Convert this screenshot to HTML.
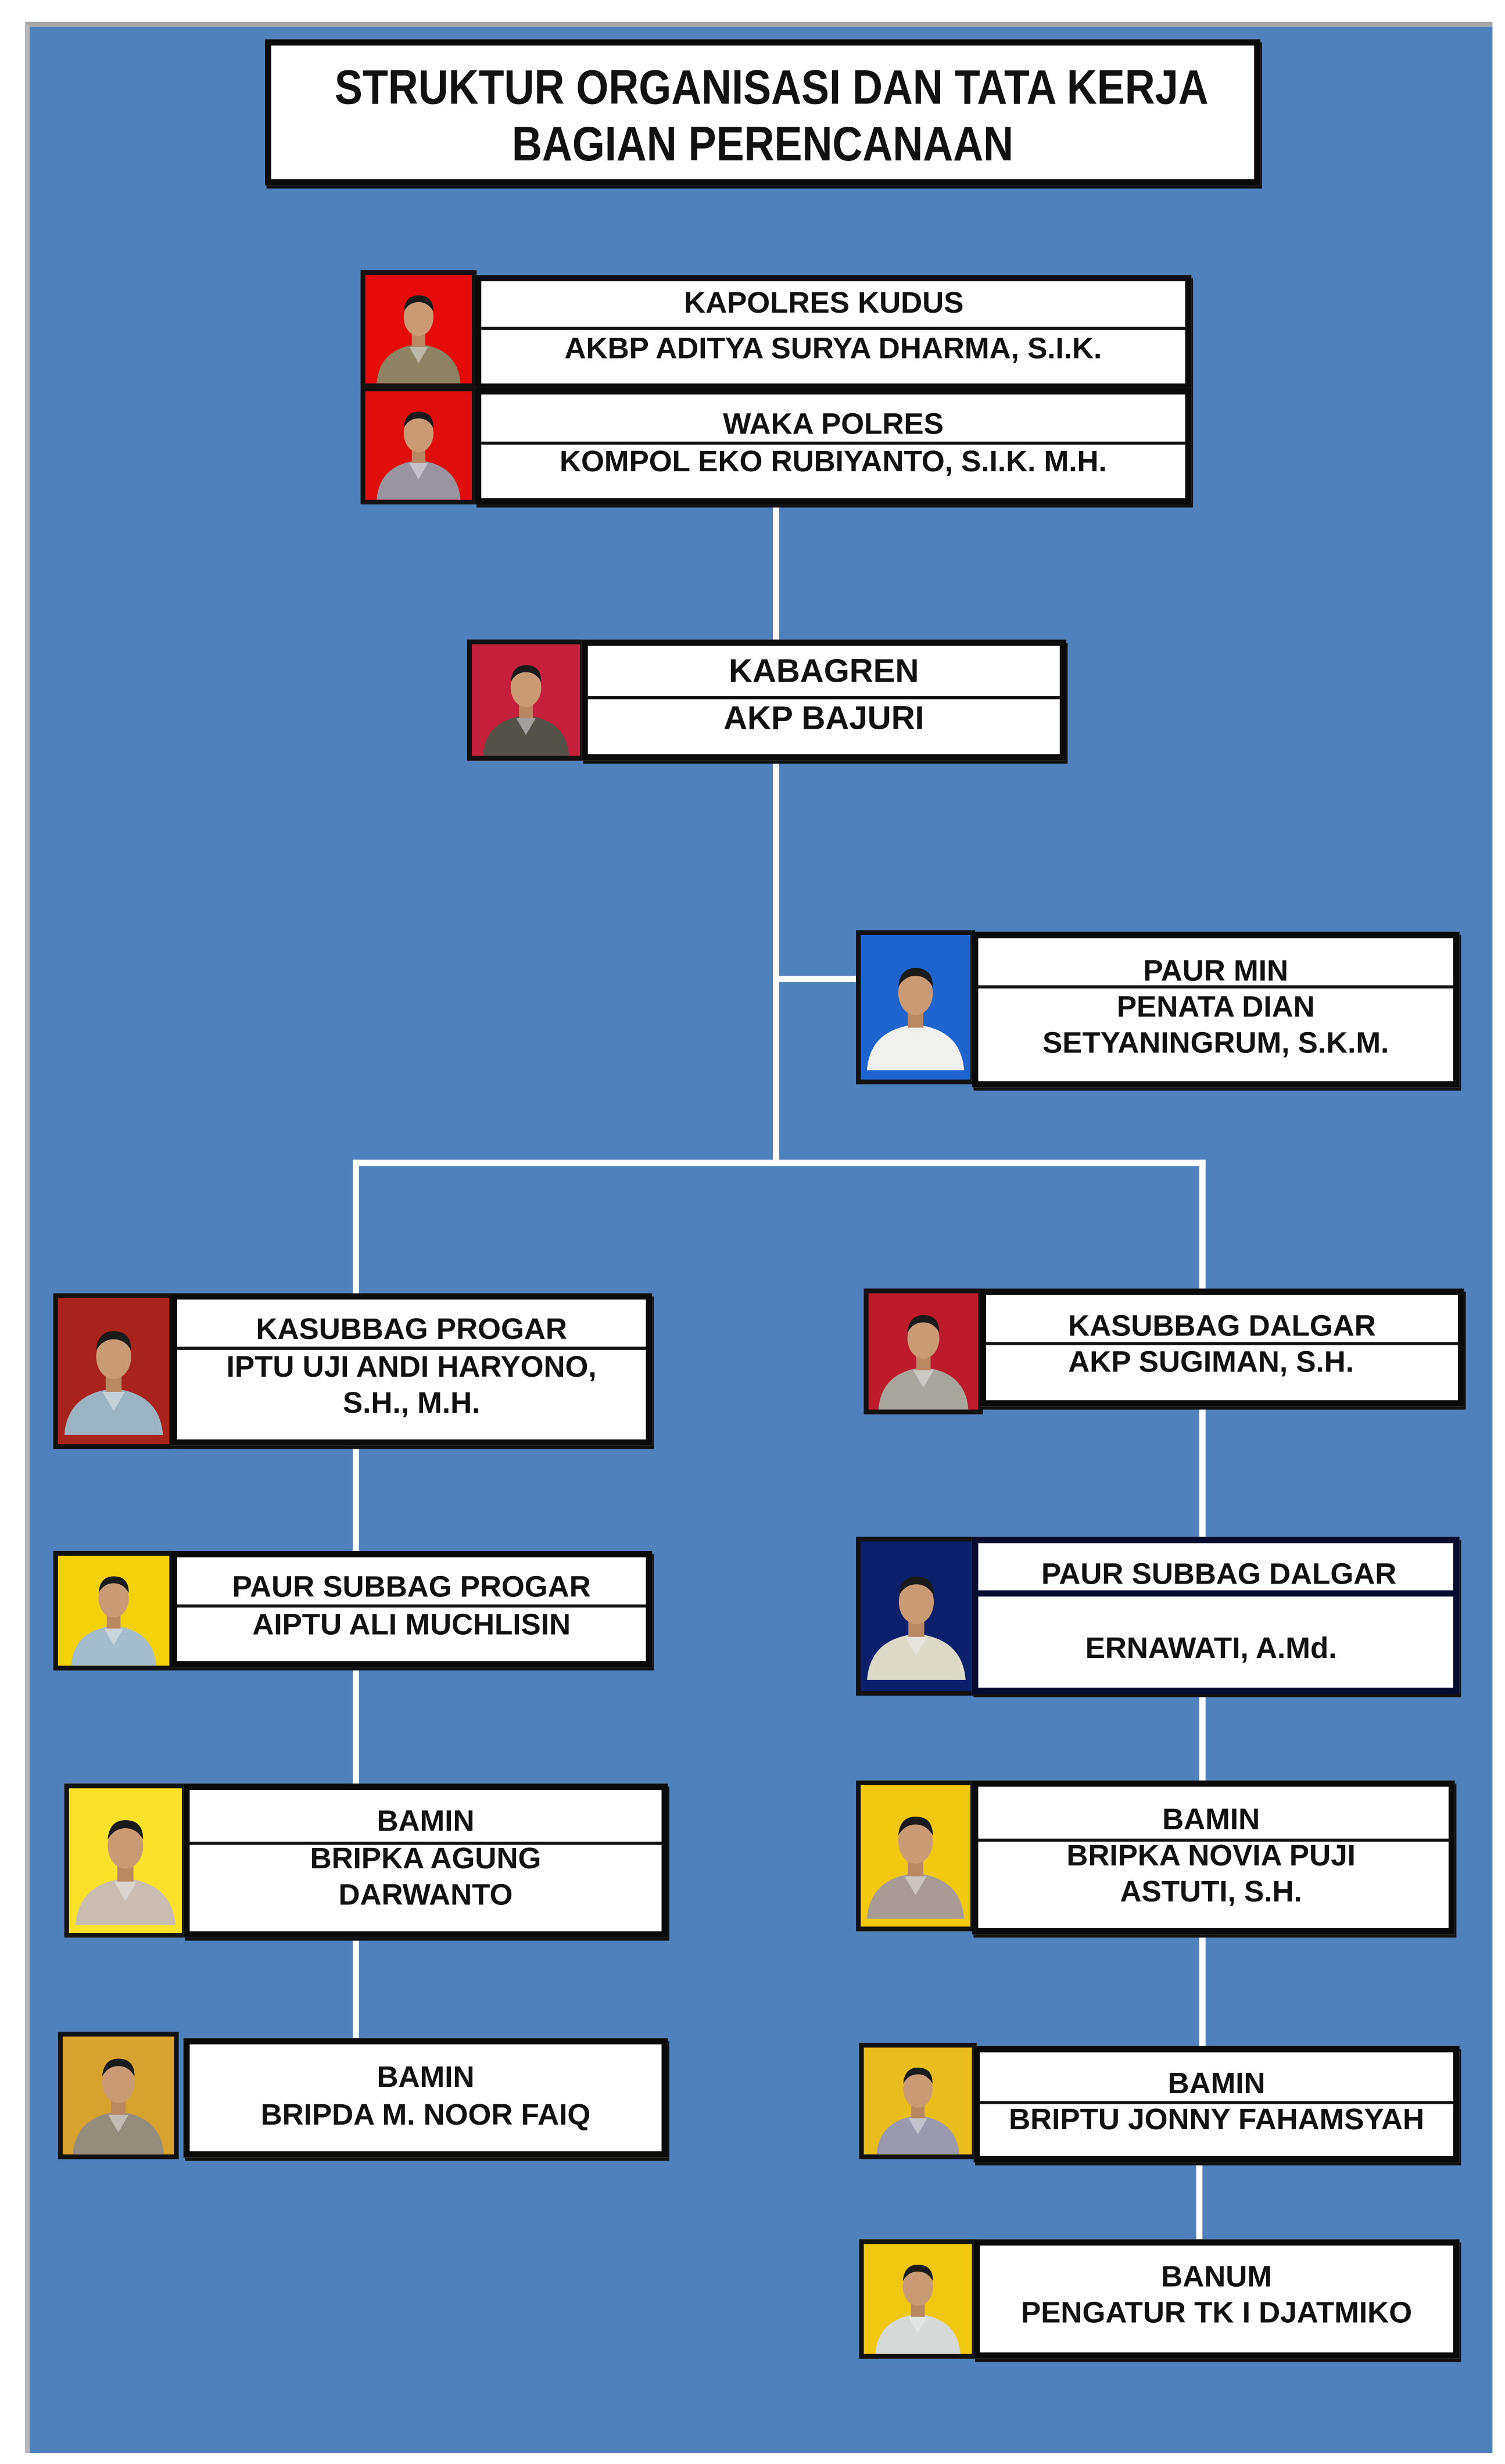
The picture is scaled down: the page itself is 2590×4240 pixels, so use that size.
<!DOCTYPE html>
<html><head><meta charset="utf-8"><style>
html,body{margin:0;padding:0;background:#fff;width:2590px;height:4240px;overflow:hidden}
#w{position:absolute;left:0;top:0;width:960px;height:1568px;transform:scale(2.6979,2.7041);transform-origin:0 0;font-family:"Liberation Sans",Arial,sans-serif}
.a{position:absolute}
.bg{left:16px;top:14px;width:933px;height:1544px;background:#4f81bd;border-top:3px solid #a8a8a8;border-left:3px solid #b8b8b8}
.box{position:absolute;background:#fff;border:4px solid #0a0a0a;box-sizing:border-box;box-shadow:1px 2px 0 #111}
.ph{position:absolute;border:3px solid #111;box-sizing:border-box;overflow:hidden}
.ph svg{width:100%;height:100%;display:block}
.t{position:absolute;text-align:center;font-weight:bold;font-size:19px;line-height:23px;color:#111;white-space:nowrap}
.dv{position:absolute;height:2px;background:#111}
.vl{position:absolute;width:4px;background:#fff}
.hl{position:absolute;height:4px;background:#fff}
</style></head><body><div id="w">
<svg width="0" height="0" style="position:absolute"><defs>
<symbol id="p" viewBox="0 0 70 80"><path d="M4 80 Q6 54 35 51 Q64 54 66 80Z" fill="currentColor"/><rect x="30" y="40" width="10" height="13" fill="#b98862"/><ellipse cx="35" cy="31" rx="11" ry="14" fill="#c99a74"/><path d="M24 27 Q25 15 35 15 Q46 15 46 27 Q42 20 35 20 Q28 20 24 27Z" fill="#1a1a1a"/><path d="M28 53 L35 65 L42 53" fill="#eee" opacity=".5"/></symbol>
</defs></svg>
<div class="a bg"></div>

<div class="box" style="left:169px;top:25px;width:635px;height:93px"></div>
<div class="t" style="left:169px;width:635px;top:38px;font-size:31px;line-height:36px;transform:scaleX(.86)">STRUKTUR ORGANISASI DAN TATA KERJA<br>BAGIAN PERENCANAAN</div>

<div class="vl" style="left:493px;top:318px;height:92px"></div>
<div class="vl" style="left:493px;top:480px;height:262px"></div>
<div class="hl" style="left:493px;top:621px;width:55px"></div>
<div class="hl" style="left:225px;top:738px;width:544px"></div>
<div class="vl" style="left:225px;top:738px;height:88px"></div>
<div class="vl" style="left:765px;top:738px;height:84px"></div>
<div class="vl" style="left:225px;top:917px;height:72px"></div>
<div class="vl" style="left:765px;top:891px;height:89px"></div>
<div class="vl" style="left:225px;top:1058px;height:79px"></div>
<div class="vl" style="left:765px;top:1075px;height:60px"></div>
<div class="vl" style="left:225px;top:1230px;height:70px"></div>
<div class="vl" style="left:765px;top:1228px;height:75px"></div>
<div class="vl" style="left:763px;top:1372px;height:56px"></div>

<div class="ph" style="left:230px;top:172px;width:74px;height:75px;background:#e50b0b;color:#8d8363"><svg><use href="#p"/></svg></div>
<div class="box" style="left:303px;top:175px;width:457px;height:73px"></div>
<div class="dv" style="left:307px;top:208px;width:449px"></div>
<div class="t" style="left:303px;width:445px;top:182px">KAPOLRES KUDUS</div>
<div class="t" style="left:303px;width:457px;top:211px">AKBP ADITYA SURYA DHARMA, S.I.K.</div>
<div class="ph" style="left:230px;top:246px;width:74px;height:75px;background:#e00d0d;color:#9a93a0"><svg><use href="#p"/></svg></div>
<div class="box" style="left:303px;top:247px;width:457px;height:74px"></div>
<div class="dv" style="left:307px;top:281px;width:449px"></div>
<div class="t" style="left:303px;width:457px;top:259px">WAKA POLRES</div>
<div class="t" style="left:303px;width:457px;top:283px">KOMPOL EKO RUBIYANTO, S.I.K. M.H.</div>

<div class="ph" style="left:298px;top:407px;width:75px;height:77px;background:#c51f3e;color:#55524a"><svg><use href="#p"/></svg></div>
<div class="box" style="left:371px;top:407px;width:309px;height:77px"></div>
<div class="dv" style="left:375px;top:443px;width:301px"></div>
<div class="t" style="left:371px;width:309px;top:416px;font-size:21px">KABAGREN</div>
<div class="t" style="left:371px;width:309px;top:446px;font-size:21px">AKP BAJURI</div>

<div class="ph" style="left:546px;top:592px;width:76px;height:98px;background:#1f63cf;color:#f0f0ee"><svg preserveAspectRatio="none"><use href="#p"/></svg></div>
<div class="box" style="left:620px;top:593px;width:311px;height:99px"></div>
<div class="dv" style="left:624px;top:627px;width:303px"></div>
<div class="t" style="left:620px;width:311px;top:607px">PAUR MIN</div>
<div class="t" style="left:620px;width:311px;top:630px;line-height:23px">PENATA DIAN<br>SETYANINGRUM, S.K.M.</div>

<div class="ph" style="left:34px;top:823px;width:77px;height:99px;background:#a8231c;color:#9cb4c2"><svg preserveAspectRatio="none"><use href="#p"/></svg></div>
<div class="box" style="left:109px;top:823px;width:307px;height:97px"></div>
<div class="dv" style="left:113px;top:857px;width:299px"></div>
<div class="t" style="left:109px;width:307px;top:835px">KASUBBAG PROGAR</div>
<div class="t" style="left:109px;width:307px;top:859px;line-height:23px">IPTU UJI ANDI HARYONO,<br>S.H., M.H.</div>

<div class="ph" style="left:551px;top:820px;width:76px;height:80px;background:#bd1b2c;color:#a7a59c"><svg><use href="#p"/></svg></div>
<div class="box" style="left:625px;top:820px;width:309px;height:75px"></div>
<div class="dv" style="left:629px;top:854px;width:301px"></div>
<div class="t" style="left:625px;width:309px;top:833px">KASUBBAG DALGAR</div>
<div class="t" style="left:625px;width:295px;top:856px">AKP SUGIMAN, S.H.</div>

<div class="ph" style="left:34px;top:987px;width:77px;height:76px;background:#f3d20c;color:#a4bccc"><svg><use href="#p"/></svg></div>
<div class="box" style="left:109px;top:987px;width:307px;height:74px"></div>
<div class="dv" style="left:113px;top:1021px;width:299px"></div>
<div class="t" style="left:109px;width:307px;top:999px">PAUR SUBBAG PROGAR</div>
<div class="t" style="left:109px;width:307px;top:1023px">AIPTU ALI MUCHLISIN</div>

<div class="ph" style="left:546px;top:978px;width:77px;height:101px;background:#0c1f6a;color:#dcd9c8"><svg preserveAspectRatio="none"><use href="#p"/></svg></div>
<div class="box" style="left:620px;top:978px;width:311px;height:100px;border-color:#050a2e"></div>
<div class="dv" style="left:624px;top:1012px;width:303px;height:4px;background:#050a2e"></div>
<div class="t" style="left:620px;width:315px;top:991px">PAUR SUBBAG DALGAR</div>
<div class="t" style="left:620px;width:305px;top:1038px">ERNAWATI, A.Md.</div>

<div class="ph" style="left:41px;top:1135px;width:78px;height:98px;background:#fbe22a;color:#c9bdb2"><svg preserveAspectRatio="none"><use href="#p"/></svg></div>
<div class="box" style="left:117px;top:1135px;width:309px;height:98px"></div>
<div class="dv" style="left:121px;top:1172px;width:301px"></div>
<div class="t" style="left:117px;width:309px;top:1148px">BAMIN</div>
<div class="t" style="left:117px;width:309px;top:1172px;line-height:23px">BRIPKA AGUNG<br>DARWANTO</div>

<div class="ph" style="left:546px;top:1133px;width:76px;height:96px;background:#f2c811;color:#a89b95"><svg preserveAspectRatio="none"><use href="#p"/></svg></div>
<div class="box" style="left:620px;top:1133px;width:308px;height:98px"></div>
<div class="dv" style="left:624px;top:1170px;width:300px"></div>
<div class="t" style="left:620px;width:305px;top:1147px">BAMIN</div>
<div class="t" style="left:620px;width:305px;top:1170px;line-height:23px">BRIPKA NOVIA PUJI<br>ASTUTI, S.H.</div>

<div class="ph" style="left:37px;top:1293px;width:77px;height:81px;background:#d7a22d;color:#948c7c"><svg><use href="#p"/></svg></div>
<div class="box" style="left:117px;top:1297px;width:309px;height:76px"></div>
<div class="t" style="left:117px;width:309px;top:1311px">BAMIN</div>
<div class="t" style="left:117px;width:309px;top:1335px">BRIPDA M. NOOR FAIQ</div>

<div class="ph" style="left:548px;top:1300px;width:75px;height:74px;background:#e8bd1c;color:#9a99ad"><svg><use href="#p"/></svg></div>
<div class="box" style="left:621px;top:1302px;width:310px;height:74px"></div>
<div class="dv" style="left:625px;top:1337px;width:302px"></div>
<div class="t" style="left:621px;width:310px;top:1315px">BAMIN</div>
<div class="t" style="left:621px;width:310px;top:1338px">BRIPTU JONNY FAHAMSYAH</div>

<div class="ph" style="left:548px;top:1425px;width:75px;height:76px;background:#f0c80f;color:#d6d9d8"><svg><use href="#p"/></svg></div>
<div class="box" style="left:621px;top:1425px;width:310px;height:76px"></div>
<div class="t" style="left:621px;width:310px;top:1438px">BANUM</div>
<div class="t" style="left:621px;width:310px;top:1461px">PENGATUR TK I DJATMIKO</div>
</div></body></html>
